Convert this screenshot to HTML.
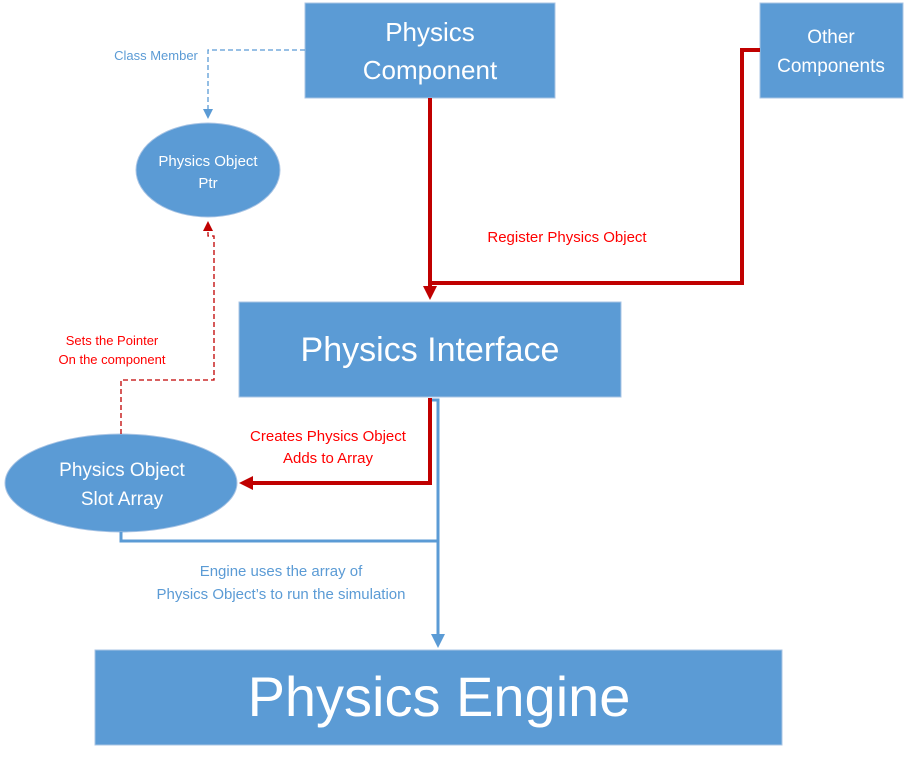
<!DOCTYPE html>
<html><head><style>
html,body{margin:0;padding:0;background:#fff;width:909px;height:766px;overflow:hidden}
svg text{font-family:"Liberation Sans",sans-serif}
</style></head><body>
<svg width="909" height="766" viewBox="0 0 909 766" xmlns="http://www.w3.org/2000/svg">
<defs>
<marker id="ar" markerWidth="10" markerHeight="10" refX="5" refY="5" orient="auto" markerUnits="userSpaceOnUse"><path d="M0,0 L10,5 L0,10z" fill="#c00000"/></marker>
<marker id="ab" markerWidth="10" markerHeight="10" refX="5" refY="5" orient="auto" markerUnits="userSpaceOnUse"><path d="M0,0 L10,5 L0,10z" fill="#5b9bd5"/></marker>
<marker id="arBig" markerWidth="14" markerHeight="14" refX="9" refY="7" orient="auto" markerUnits="userSpaceOnUse"><path d="M0,0 L14,7 L0,14z" fill="#c00000"/></marker>
<marker id="abBig" markerWidth="14" markerHeight="14" refX="9" refY="7" orient="auto" markerUnits="userSpaceOnUse"><path d="M0,0 L14,7 L0,14z" fill="#5b9bd5"/></marker>
</defs>
<g fill="#5b9bd5" stroke="#a9c4e4" stroke-width="1">
<rect x="305" y="3" width="250" height="95"/>
<rect x="760" y="3" width="143" height="95"/>
<rect x="239" y="302" width="382" height="95"/>
<rect x="95" y="650" width="687" height="95"/>
<ellipse cx="208" cy="170" rx="72" ry="47"/>
<ellipse cx="121" cy="483" rx="116" ry="49"/>
</g>
<path d="M305,50 H208 V114" fill="none" stroke="#5b9bd5" stroke-width="1.3" stroke-dasharray="5,3" marker-end="url(#ab)"/>
<path d="M121,434 V380 H214 V236 H208 V226" fill="none" stroke="#c00000" stroke-width="1.3" stroke-dasharray="5,3" marker-end="url(#ar)"/>
<path d="M430,98 V295" fill="none" stroke="#c00000" stroke-width="4" marker-end="url(#arBig)"/>
<path d="M760,50 H742 V283 H430" fill="none" stroke="#c00000" stroke-width="4"/>
<path d="M430,398 V483 H244" fill="none" stroke="#c00000" stroke-width="4" marker-end="url(#arBig)"/>
<path d="M432,400 H438 V643" fill="none" stroke="#5b9bd5" stroke-width="3" marker-end="url(#abBig)"/>
<path d="M121,532 V541 H438" fill="none" stroke="#5b9bd5" stroke-width="3"/>
<g fill="#fff" text-anchor="middle">
<text x="430" y="41" font-size="26">Physics</text>
<text x="430" y="79" font-size="26">Component</text>
<text x="831" y="43" font-size="19">Other</text>
<text x="831" y="72" font-size="19">Components</text>
<text x="430" y="361" font-size="34">Physics Interface</text>
<text x="439" y="716" font-size="56">Physics Engine</text>
<text x="208" y="166" font-size="15">Physics Object</text>
<text x="208" y="188" font-size="15">Ptr</text>
<text x="122" y="476" font-size="19">Physics Object</text>
<text x="122" y="505" font-size="19">Slot Array</text>
</g>
<g text-anchor="middle">
<text x="156" y="60" font-size="13" fill="#5b9bd5">Class Member</text>
<text x="567" y="242" font-size="15" fill="#ff0000">Register Physics Object</text>
<text x="112" y="345" font-size="13" fill="#ff0000">Sets the Pointer</text>
<text x="112" y="364" font-size="13" fill="#ff0000">On the component</text>
<text x="328" y="441" font-size="15" fill="#ff0000">Creates Physics Object</text>
<text x="328" y="463" font-size="15" fill="#ff0000">Adds to Array</text>
<text x="281" y="576" font-size="15" fill="#5b9bd5">Engine uses the array of</text>
<text x="281" y="599" font-size="15" fill="#5b9bd5">Physics Object’s to run the simulation</text>
</g>
</svg>
</body></html>
